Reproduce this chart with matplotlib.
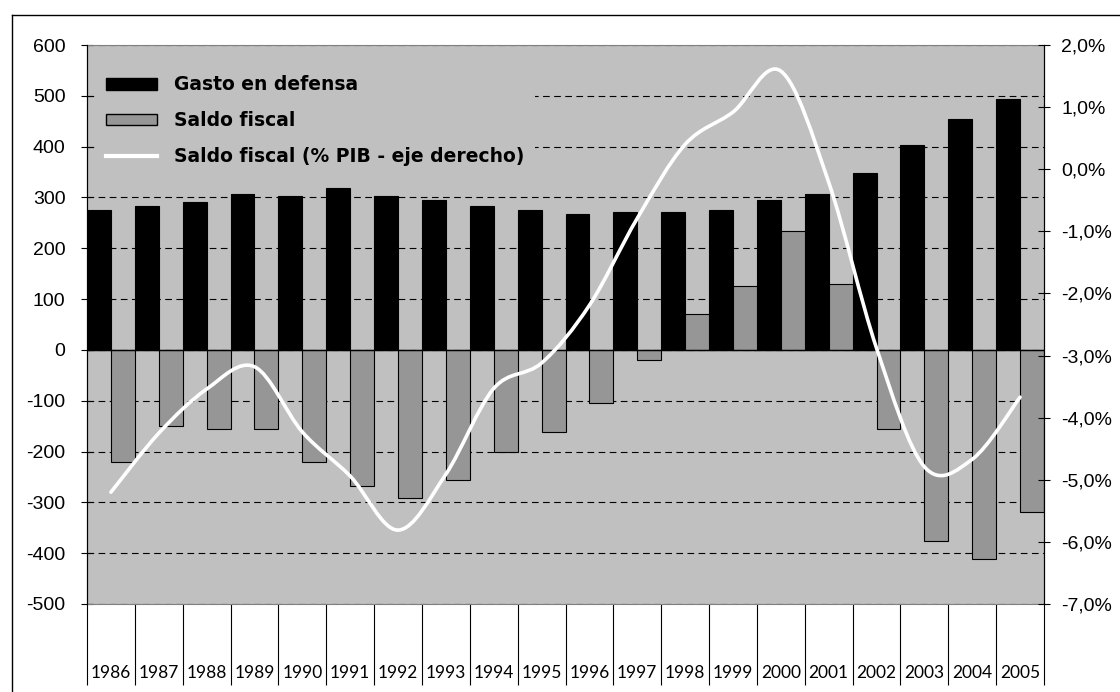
import numpy as np
import matplotlib.pyplot as plt
from matplotlib.path import Path
from matplotlib.patches import PathPatch, Patch
from matplotlib.lines import Line2D

# -----------------------------
# Data
# -----------------------------

years = [str(y) for y in range(1986, 2006)]

gasto_defensa = [275, 283, 291, 307, 303, 318, 303, 295, 283, 275,
                 267, 271, 271, 275, 295, 306, 349, 403, 455, 494]

saldo_fiscal = [-220, -150, -155, -155, -220, -268, -291, -256, -200, -161,
                -105, -19, 70, 126, 234, 129, -155, -377, -412, -318]

saldo_pib = [-5.20, -4.25, -3.54, -3.18, -4.23, -4.94, -5.81, -4.91, -3.53, -3.12,
             -2.19, -0.79, 0.40, 0.92, 1.58, -0.21, -2.88, -4.79, -4.67, -3.67]

left_ticks = list(range(-500, 601, 100))
right_ticks = list(range(-7, 3))

# -----------------------------
# Figure
# -----------------------------

plt.rcParams["font.family"] = ["Liberation Sans", "DejaVu Sans"]
plt.rcParams["axes.unicode_minus"] = False

fig = plt.figure(figsize=(11.2, 6.92), dpi=100)
ax = fig.add_axes([87 / 1120, 88 / 692, 957 / 1120, 559 / 692])
ax.set_facecolor("#c0c0c0")

x = np.arange(len(years))

ax.bar(x - 0.25, gasto_defensa, width=0.5, color="black",
       edgecolor="black", linewidth=0.8, zorder=2)
ax.bar(x + 0.25, saldo_fiscal, width=0.5, color="#969696",
       edgecolor="black", linewidth=0.8, zorder=2)
ax.axhline(0, color="black", linewidth=1.0, zorder=3)

ax.set_xlim(-0.5, len(years) - 0.5)
ax.set_ylim(-500, 600)
ax.set_yticks(left_ticks)
ax.yaxis.grid(True, color="black", linestyle=(0, (6, 4)), linewidth=0.8)
ax.set_axisbelow(True)
ax.tick_params(axis="y", direction="inout", length=9, width=0.8,
               labelsize=14, pad=11)

# category axis: long separators and year labels at the bottom
ax.set_xticks(x)
ax.set_xticklabels(years, family="Lato", fontsize=12.5)
ax.set_xticks(np.arange(-0.5, len(years)), minor=True)
ax.tick_params(axis="x", which="major", length=0, pad=44)
ax.tick_params(axis="x", which="minor", length=58, width=0.8, direction="out")

for side in ["top", "bottom"]:
    ax.spines[side].set_color("#808080")
ax.spines["left"].set_linewidth(0.8)

# -----------------------------
# Right axis: smoothed line
# -----------------------------

ax2 = ax.twinx()
ax2.set_ylim(-7, 2)
ax2.set_yticks(right_ticks)
ax2.set_yticklabels([f"{v:.1f}%".replace(".", ",") for v in right_ticks])
ax2.tick_params(axis="y", direction="inout", length=9, width=0.8,
                labelsize=14, pad=8)
ax2.spines["right"].set_linewidth(0.8)
ax2.spines["top"].set_visible(False)
ax2.spines["bottom"].set_visible(False)

# smooth curve through the points (Catmull-Rom as Bezier segments)
pts = np.column_stack([x, saldo_pib]).astype(float)
ext = np.vstack([pts[0], pts, pts[-1]])
verts = [tuple(pts[0])]
codes = [Path.MOVETO]
for i in range(len(pts) - 1):
    p0, p1, p2, p3 = ext[i], ext[i + 1], ext[i + 2], ext[i + 3]
    c1 = p1 + (p2 - p0) / 6
    c2 = p2 - (p3 - p1) / 6
    verts += [tuple(c1), tuple(c2), tuple(p2)]
    codes += [Path.CURVE4] * 3
ax2.add_patch(PathPatch(Path(verts, codes), facecolor="none",
                        edgecolor="white", linewidth=2.6,
                        capstyle="round", zorder=4))

# -----------------------------
# Legend
# -----------------------------

handles = [
    Patch(facecolor="black", edgecolor="black", label="Gasto en defensa"),
    Patch(facecolor="#969696", edgecolor="black", label="Saldo fiscal"),
    Line2D([], [], color="white", linewidth=3, label="Saldo fiscal (% PIB - eje derecho)"),
]
leg = ax2.legend(handles=handles, loc="upper left",
                 bbox_to_anchor=(8 / 957, 1 - 19 / 559),
                 prop={"family": "DejaVu Sans", "weight": "bold", "size": 13.5},
                 frameon=True, facecolor="#c0c0c0", edgecolor="none",
                 framealpha=1, fancybox=False, handlelength=2.7,
                 handleheight=0.6, handletextpad=0.9, labelspacing=0.9,
                 borderpad=0.6, borderaxespad=0)

# -----------------------------
# Outer frame
# -----------------------------

fig.add_artist(Line2D([12 / 1120, 1], [1 - 15 / 692, 1 - 15 / 692],
                      transform=fig.transFigure, color="black", linewidth=1))
fig.add_artist(Line2D([12 / 1120, 12 / 1120], [0, 1 - 15 / 692],
                      transform=fig.transFigure, color="black", linewidth=1))

fig.savefig("out.png", dpi=100)
